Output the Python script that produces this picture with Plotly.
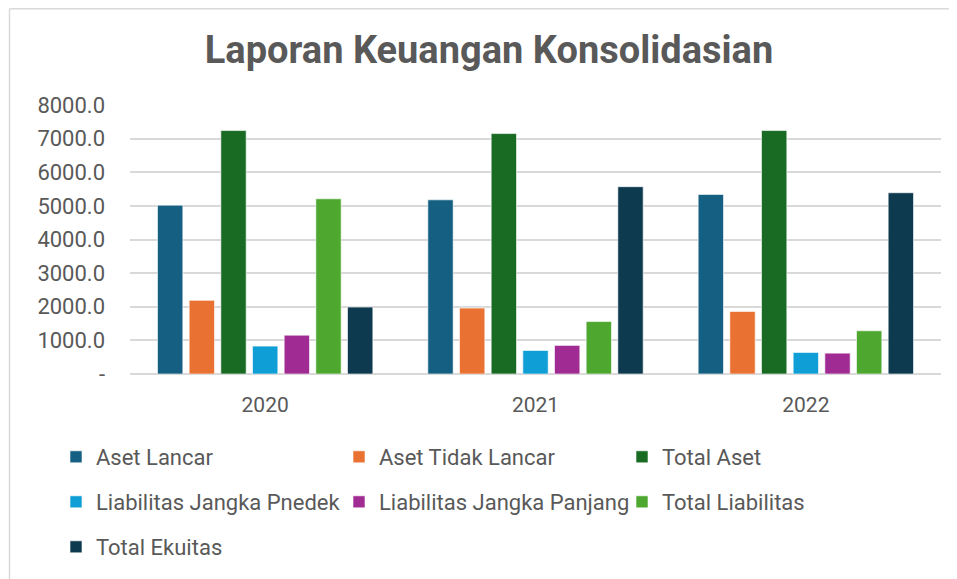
import plotly.graph_objects as go

years = ["2020", "2021", "2022"]
series_names = ["Aset Lancar", "Aset Tidak Lancar", "Total Aset",
                "Liabilitas Jangka Pnedek", "Liabilitas Jangka Panjang",
                "Total Liabilitas", "Total Ekuitas"]
aset_lancar = [5020, 5180, 5340]
aset_tidak_lancar = [2190, 1960, 1860]
total_aset = [7240, 7150, 7240]
liab_pendek = [830, 700, 640]
liab_panjang = [1155, 850, 620]
total_liab = [5210, 1560, 1285]
total_ekuitas = [1990, 5570, 5390]
y_tick_vals = [0, 1000, 2000, 3000, 4000, 5000, 6000, 7000, 8000]
y_tick_text = ["-", "1000.0", "2000.0", "3000.0", "4000.0", "5000.0", "6000.0", "7000.0", "8000.0"]

values = [aset_lancar, aset_tidak_lancar, total_aset, liab_pendek,
          liab_panjang, total_liab, total_ekuitas]
colors = ["#156082", "#E97132", "#196B24", "#0F9ED5", "#A02B93", "#4EA72E", "#0D3A4E"]
legend_ids = ["legend", "legend", "legend", "legend2", "legend2", "legend2", "legend3"]

FONT = "Roboto"
GREY = "#595959"

fig = go.Figure()
for name, vals, col, lg in zip(series_names, values, colors, legend_ids):
    fig.add_trace(go.Bar(x=years, y=vals, name=name, legend=lg,
                         marker=dict(color=col, line=dict(color="rgba(255,255,255,0.6)", width=1))))

# page body has an 8px margin: figure pixel = target pixel - 8
OFF = 8
W, H = 957 - OFF, 579 - OFF
L, R, T, B = 130 - OFF, 16, 105 - OFF, 579 - 374
pw = W - L - R
ph = H - T - B

def px_x(p):
    return (p - OFF - L) / pw

def px_y(p):
    return (H - B - (p - OFF)) / ph

legend_common = dict(orientation="h", xref="paper", yref="paper", xanchor="left", yanchor="middle",
                     font=dict(family=FONT, size=22, color=GREY), entrywidth=238,
                     entrywidthmode="pixels", itemwidth=30, bgcolor="rgba(0,0,0,0)", tracegroupgap=0)

fig.update_layout(
    width=W, height=H,
    margin=dict(l=L, r=R, t=T, b=B, autoexpand=False),
    paper_bgcolor="white", plot_bgcolor="white",
    title=dict(text="<b>Laporan Keuangan Konsolidasian</b>", xref="container", x=(489 - OFF) / W,
               xanchor="center", y=1 - (50 - OFF) / H, yanchor="middle",
               font=dict(family=FONT, size=38, color=GREY)),
    barmode="group", bargap=0.18, bargroupgap=0.2,
    legend=dict(x=px_x(56), y=px_y(457), **legend_common),
    legend2=dict(x=px_x(56), y=px_y(502), **legend_common),
    legend3=dict(x=px_x(56), y=px_y(547), **legend_common),
    xaxis=dict(showgrid=False, showline=False, ticks="",
               tickfont=dict(family=FONT, size=21, color=GREY), ticklabelstandoff=16),
    yaxis=dict(range=[0, 8000], tickvals=y_tick_vals, ticktext=y_tick_text,
               showgrid=True, gridcolor="#d9d9d9", gridwidth=1.5,
               zeroline=True, zerolinecolor="#d9d9d9", zerolinewidth=1.5,
               tickfont=dict(family=FONT, size=22, color=GREY), ticklabelstandoff=24),
    showlegend=True,
    shapes=[
        dict(type="line", xref="paper", yref="paper", x0=px_x(9.5), x1=px_x(980), y0=px_y(8.75), y1=px_y(8.75),
             line=dict(color="#d9d9d9", width=1.5)),
        dict(type="line", xref="paper", yref="paper", x0=px_x(9.5), x1=px_x(9.5), y0=px_y(8.75), y1=px_y(600),
             line=dict(color="#d9d9d9", width=1.5)),
    ],
)

fig.write_html("out.html")
